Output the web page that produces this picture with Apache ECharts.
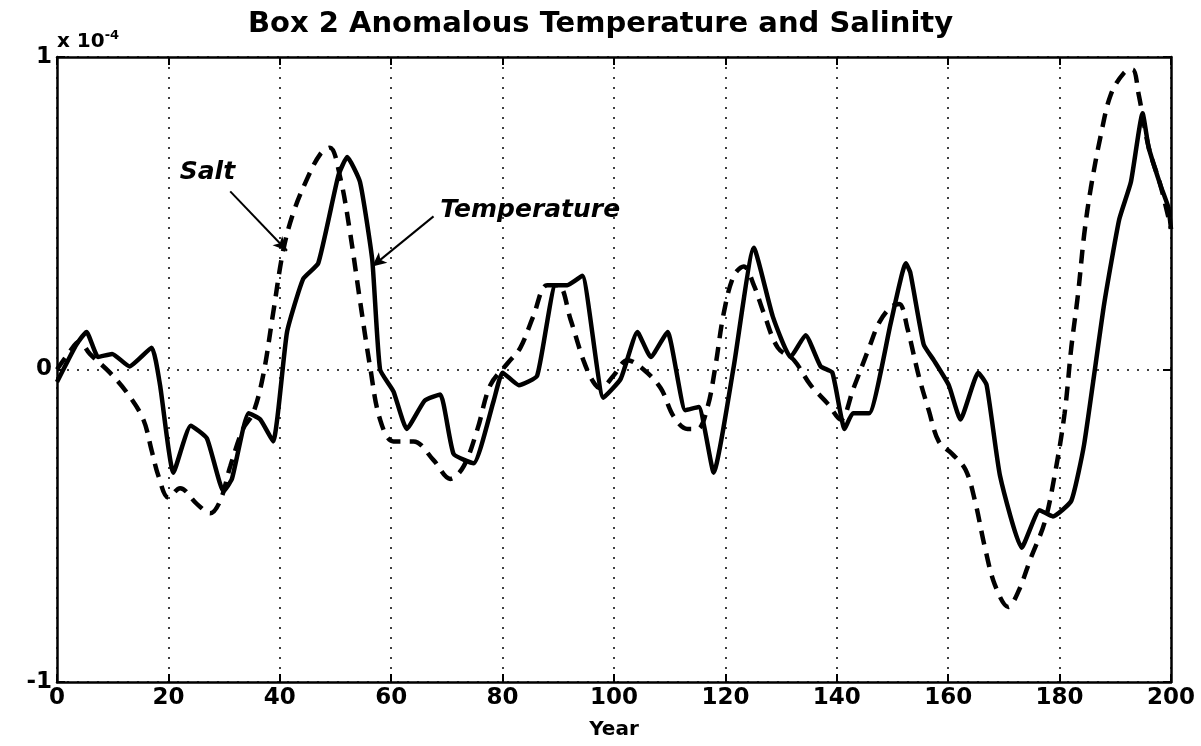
<!DOCTYPE html>
<html><head><meta charset="utf-8">
<script src="https://cdn.jsdelivr.net/npm/echarts@6/dist/echarts.min.js"></script>
<style>html,body{margin:0;padding:0;background:#fff}#c{width:1201px;height:746px}</style>
</head><body><div id="c"></div>
<script>
// Temperature anomaly (x 1e-4), solid line
const tempYears = [0,2,3.5,5.3,7.4,9.9,13,17,18.5,20.9,24,26.9,29.9,31.4,34.4,36.5,38.8,41.3,44.2,46.9,50.5,52.1,54.4,56.6,58,60.4,62.8,66,68.8,71.2,74.8,78.4,80,82.9,86.2,89.5,91.6,94.3,98.1,101.2,104.2,106.6,109.6,112.8,115.2,117.9,121.5,125.1,128.5,131.7,134.4,137.1,139.2,141.4,142.9,145.8,149.7,152.4,153.2,155.6,157.4,160.1,162.2,165.4,166.9,169.3,173.2,176.4,178.8,182.1,184.4,188,190.7,192.8,194.9,196,198.1,199.5,200];
const tempValues = [-0.04,0.03,0.08,0.12,0.04,0.05,0.01,0.07,-0.05,-0.33,-0.18,-0.22,-0.39,-0.35,-0.14,-0.16,-0.23,0.12,0.29,0.34,0.62,0.68,0.6,0.35,0,-0.07,-0.19,-0.10,-0.08,-0.27,-0.30,-0.10,-0.01,-0.05,-0.02,0.27,0.27,0.30,-0.09,-0.03,0.12,0.04,0.12,-0.13,-0.12,-0.33,0.01,0.39,0.17,0.04,0.11,0.01,-0.01,-0.19,-0.14,-0.14,0.15,0.34,0.31,0.08,0.03,-0.05,-0.16,-0.01,-0.05,-0.34,-0.57,-0.45,-0.47,-0.42,-0.24,0.21,0.48,0.60,0.82,0.71,0.59,0.52,0.45];
// Salinity anomaly (x 1e-4), dashed line
const saltYears = [0,2,4,5.9,9.5,12.8,15.5,17,18.2,20,22.1,25.1,27.5,29.3,31.1,33.4,35.2,37,38.8,40.6,42.4,44.9,47.3,49,50.9,52.6,54.4,56.2,58,60.4,64,67.6,70.6,73,75.5,77.8,80.9,83.2,85.5,88,90,92.2,94.5,96.3,97.6,99.9,102.4,105.3,108.4,110.7,113.2,115,116.8,118.2,119.7,121.5,123.3,125.1,126.9,129.4,132.3,135.3,138.4,140.7,143,145.8,147.6,149.7,151.2,152.7,154.7,156.5,158.3,160.7,163.1,164.8,166.6,168.4,170.8,172.6,174.9,177.3,179.1,180.9,182.1,183.3,184.4,185.6,187.4,189.2,191.6,193.1,194.2,196,198.1,200];
const saltValues = [0.0,0.05,0.09,0.05,-0.01,-0.08,-0.16,-0.26,-0.34,-0.41,-0.38,-0.43,-0.46,-0.42,-0.31,-0.19,-0.14,-0.02,0.18,0.38,0.50,0.61,0.69,0.71,0.61,0.44,0.22,0.01,-0.16,-0.23,-0.23,-0.29,-0.35,-0.31,-0.19,-0.05,0.02,0.07,0.17,0.27,0.27,0.16,0.03,-0.04,-0.06,-0.02,0.03,0.00,-0.06,-0.15,-0.19,-0.19,-0.12,0.01,0.18,0.30,0.33,0.27,0.18,0.07,0.03,-0.05,-0.11,-0.16,-0.06,0.07,0.15,0.20,0.21,0.13,-0.02,-0.13,-0.23,-0.27,-0.32,-0.42,-0.57,-0.69,-0.76,-0.71,-0.60,-0.49,-0.34,-0.14,0.07,0.24,0.43,0.58,0.75,0.88,0.95,0.96,0.88,0.71,0.59,0.45];
const xTickLabels = ['0','20','40','60','80','100','120','140','160','180','200'];
const yTickLabels = ['-1','0','1'];

const FONT = 'DejaVu Sans, Liberation Sans, Arial, sans-serif';
const pair = (xs, ys) => xs.map((x, i) => [x, ys[i]]);

const chart = echarts.init(document.getElementById('c'), null, {renderer: 'canvas'});
const axisCommon = {
  type: 'value', min: 0, max: 200, interval: 20,
  axisLine: {show: true, onZero: false, lineStyle: {color: '#000', width: 2.5}},
  axisTick: {show: true, inside: true, length: 8, lineStyle: {color: '#000', width: 2}},
};
const yCommon = {
  type: 'value', min: -1, max: 1, interval: 1,
  axisLine: {show: true, onZero: false, lineStyle: {color: '#000', width: 2.5}},
  axisTick: {show: true, inside: true, length: 8, lineStyle: {color: '#000', width: 2}},
};
chart.setOption({
  backgroundColor: '#fff',
  animation: false,
  title: {
    text: 'Box 2 Anomalous Temperature and Salinity',
    left: 'center', top: 5,
    textStyle: {fontFamily: FONT, fontWeight: 'bold', fontSize: 29, color: '#000'}
  },
  graphic: [{
    type: 'text', left: 57, top: 29,
    style: {
      text: '{a|x 10}{b|-4}',
      rich: {
        a: {fontFamily: FONT, fontWeight: 'bold', fontSize: 20, fill: '#000', color: '#000'},
        b: {fontFamily: FONT, fontWeight: 'bold', fontSize: 13, fill: '#000', color: '#000', verticalAlign: 'top', padding: [0,0,12,0]}
      }
    }
  }],
  grid: {left: 57, right: 30, top: 57, bottom: 64, containLabel: false},
  xAxis: [
    Object.assign({}, axisCommon, {
      position: 'bottom',
      name: 'Year', nameLocation: 'middle', nameGap: 38,
      nameTextStyle: {fontFamily: FONT, fontWeight: 'bold', fontSize: 20, color: '#000'},
      axisLabel: {fontFamily: FONT, fontWeight: 'bold', fontSize: 23, color: '#000', margin: 5,
        formatter: (v) => xTickLabels[Math.round(v / 20)]},
      splitLine: {show: true, lineStyle: {color: '#000', type: [2, 8], width: 1.5}}
    }),
    Object.assign({}, axisCommon, {
      position: 'top', axisLabel: {show: false}, splitLine: {show: false}
    })
  ],
  yAxis: [
    Object.assign({}, yCommon, {
      position: 'left',
      axisLabel: {fontFamily: FONT, fontWeight: 'bold', fontSize: 23, color: '#000', margin: 5,
        formatter: (v) => yTickLabels[Math.round(v) + 1]},
      splitLine: {show: true, lineStyle: {color: '#000', type: [2, 8], width: 1.5}}
    }),
    Object.assign({}, yCommon, {
      position: 'right', axisLabel: {show: false}, splitLine: {show: false}
    })
  ],
  series: [
    {
      name: 'Salt', type: 'line', data: pair(saltYears, saltValues),
      showSymbol: false, smooth: 0.35, z: 3,
      lineStyle: {color: '#000', width: 4.5, type: [14, 9], cap: 'butt'},
      markPoint: {
        symbol: 'rect', symbolSize: 0,
        data: [{coord: [27, 0.63], label: {show: true, formatter: 'Salt', position: 'inside',
          fontFamily: FONT, fontWeight: 'bold', fontStyle: 'italic', fontSize: 25, color: '#000'}}]
      },
      markLine: {
        silent: true, symbol: ['none', 'arrow'], symbolSize: [10, 14],
        label: {show: false},
        lineStyle: {color: '#000', width: 2, type: 'solid'},
        data: [[{coord: [31.1, 0.57]}, {coord: [41.3, 0.38]}]]
      }
    },
    {
      name: 'Temperature', type: 'line', data: pair(tempYears, tempValues),
      showSymbol: false, smooth: 0.15, z: 4,
      lineStyle: {color: '#000', width: 4.5, join: 'round'},
      markPoint: {
        symbol: 'rect', symbolSize: 0,
        data: [{coord: [68.8, 0.51], label: {show: true, formatter: 'Temperature', position: 'right', distance: 0,
          fontFamily: FONT, fontWeight: 'bold', fontStyle: 'italic', fontSize: 25, color: '#000'}}]
      },
      markLine: {
        silent: true, symbol: ['none', 'arrow'], symbolSize: [10, 14],
        label: {show: false},
        lineStyle: {color: '#000', width: 2, type: 'solid'},
        data: [[{coord: [67.6, 0.49]}, {coord: [56.6, 0.33]}]]
      }
    }
  ]
});
</script></body></html>
